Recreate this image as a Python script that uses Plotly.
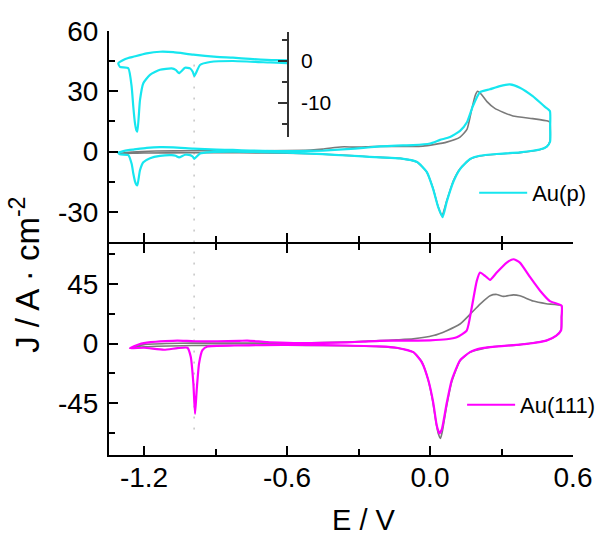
import plotly.graph_objects as go

# Cyclic voltammograms: anodic (forward) and cathodic (reverse) branches
# Au(p) electrode
E_p_fwd = [-1.308, -1.287, -1.266, -1.245, -1.189, -1.133, -1.077, -0.993, -0.895, -0.827,
           -0.755, -0.65, -0.55, -0.45, -0.35, -0.28, -0.209, -0.14, -0.071, 0.0, 0.042,
           0.084, 0.126, 0.155, 0.18, 0.209, 0.251, 0.293, 0.335, 0.377, 0.431, 0.48, 0.503]
J_p_fwd = [-0.55, 0.24, 0.7, 1.0, 1.8, 2.2, 2.1, 1.5, 1.0, 0.8,
           0.5, 0.2, 0.2, 0.5, 1.2, 1.8, 2.6, 3.0, 3.2, 4.0, 5.8,
           7.2, 10.3, 14.6, 22.7, 29.5, 31.0, 32.6, 33.4, 31.8, 27.6, 22.5, 20.2]
E_p_rev = [0.504, 0.504, 0.49, 0.46, 0.377, 0.28, 0.209, 0.168, 0.126, 0.098, 0.07, 0.053,
           0.034, 0.013, -0.013, -0.054, -0.125, -0.209, -0.3, -0.4, -0.5, -0.6, -0.7,
           -0.827, -0.923, -0.965, -0.989, -0.995, -1.007, -1.028, -1.053, -1.067, -1.084,
           -1.133, -1.175, -1.203, -1.217, -1.228, -1.232, -1.238, -1.245, -1.252, -1.266,
           -1.301, -1.308]
J_p_rev = [12.0, 5.0, 2.5, 1.0, -0.4, -1.2, -2.1, -3.7, -8.7, -15.0, -25.0, -32.6,
           -27.5, -18.6, -10.2, -5.2, -3.4, -2.9, -2.3, -1.6, -1.0, -0.5, -0.3,
           0.0, -0.24, -0.95, -3.6, -2.6, -1.75, -1.6, -2.9, -2.1, -1.75,
           -2.1, -3.3, -5.3, -9.3, -16.8, -16.5, -14.8, -10.9, -6.1, -1.75,
           -1.4, -0.55]

# Reference voltammogram recorded with Au(p)
E_p0_fwd = [-1.308, -1.25, -1.15, -1.0, -0.8, -0.6, -0.5, -0.45, -0.4, -0.36, -0.32, -0.26,
            -0.209, -0.1, -0.03, 0.07, 0.126, 0.155, 0.175, 0.19, 0.2, 0.215, 0.238, 0.272,
            0.348, 0.431, 0.494, 0.503]
J_p0_fwd = [-1.0, -0.2, 0.3, 0.4, 0.4, 0.5, 0.7, 1.2, 2.0, 2.4, 2.2, 2.4,
            2.6, 2.6, 2.7, 4.7, 7.2, 11.0, 21.0, 28.0, 30.0, 28.5, 25.0, 21.5,
            17.7, 16.4, 15.2, 14.5]
E_p0_rev = [0.503, 0.49, 0.46, 0.377, 0.28, 0.209, 0.168, 0.126, 0.098, 0.07, 0.05, 0.033,
            0.012, -0.015, -0.055, -0.125, -0.209, -0.3, -0.4, -0.5, -0.6, -0.8, -1.0,
            -1.2, -1.308]
J_p0_rev = [5.0, 2.5, 0.9, -0.5, -1.3, -2.2, -3.8, -8.5, -14.5, -24.5, -32.0, -27.0,
            -18.0, -10.0, -5.2, -3.4, -2.9, -2.2, -1.6, -1.1, -0.8, -0.6, -0.6,
            -0.7, -1.0]

# Au(111) electrode
E_111_fwd = [-1.259, -1.22, -1.172, -1.11, -1.06, -0.99, -0.893, -0.8, -0.767, -0.72, -0.683,
             -0.6, -0.543, -0.45, -0.35, -0.28, -0.21, -0.1, 0.0, 0.07, 0.112, 0.154, 0.175,
             0.196, 0.21, 0.231, 0.252, 0.28, 0.322, 0.35, 0.377, 0.42, 0.461, 0.503, 0.552]
J_111_fwd = [-3.5, -0.5, 1.0, 1.8, 2.2, 1.7, 1.7, 2.0, 2.2, 1.6, 1.0,
             0.5, 0.3, 0.5, 0.9, 1.4, 2.0, 2.2, 2.4, 3.2, 4.7, 9.7, 27.0,
             47.0, 53.5, 51.0, 48.0, 53.5, 61.0, 63.5, 61.0, 50.0, 40.0, 32.0, 28.5]
E_111_rev = [0.552, 0.55, 0.53, 0.488, 0.42, 0.377, 0.3, 0.252, 0.2, 0.168, 0.126, 0.091,
             0.07, 0.049, 0.039, 0.028, 0.014, -0.007, -0.035, -0.07, -0.14, -0.21, -0.35,
             -0.543, -0.7, -0.822, -0.934, -0.955, -0.969, -0.979, -0.986, -0.993, -1.004,
             -1.018, -1.06, -1.116, -1.2, -1.259]
J_111_rev = [20.0, 10.0, 6.0, 2.2, 0.0, -0.8, -2.0, -2.7, -4.2, -6.5, -12.7, -27.7,
             -45.0, -65.0, -67.7, -61.5, -45.0, -27.7, -14.0, -6.5, -3.2, -2.2, -1.5,
             -1.0, -1.2, -1.5, -2.2, -5.0, -15.0, -35.0, -53.0, -30.0, -10.0,
             -3.2, -3.5, -4.7, -3.2, -3.5]

# Reference voltammogram recorded with Au(111)
E_1110_fwd = [-1.259, -1.2, -1.1, -1.0, -0.8, -0.6, -0.5, -0.4, -0.3, -0.21, -0.14, -0.07,
              0.014, 0.07, 0.126, 0.168, 0.21, 0.252, 0.28, 0.308, 0.35, 0.377, 0.433,
              0.488, 0.552]
J_1110_fwd = [-3.5, -0.8, 0.0, 0.3, 0.3, 0.3, 0.5, 0.9, 1.5, 2.2, 2.8, 3.5,
              6.0, 9.7, 14.7, 22.0, 29.7, 36.0, 37.0, 35.5, 36.7, 36.0, 32.0,
              30.0, 28.5]
E_1110_rev = [0.552, 0.55, 0.53, 0.488, 0.377, 0.252, 0.168, 0.126, 0.091, 0.07, 0.052,
              0.044, 0.035, 0.024, 0.01, -0.01, -0.035, -0.07, -0.14, -0.21, -0.3, -0.45,
              -0.6, -0.8, -1.0, -1.2, -1.259]
J_1110_rev = [20.0, 10.0, 6.0, 2.2, -0.8, -2.7, -6.5, -13.0, -29.0, -47.0, -66.0,
              -71.5, -68.0, -58.0, -42.0, -26.0, -13.5, -6.5, -3.4, -2.4, -1.9, -1.5,
              -1.3, -1.3, -1.5, -2.5, -3.5]

# Potential marked by the dotted guide line
E_MARK = -0.99

# Tick positions and labels
E_TICKS = [-1.2, -0.6, 0.0, 0.6]
E_TICKTEXT = ["-1.2", "-0.6", "0.0", "0.6"]
E_MINOR = [-0.9, -0.3, 0.3]
J_TOP_TICKS = [-30, 0, 30, 60]
J_TOP_TICKTEXT = ["-30", "0", "30", "60"]
J_TOP_MINOR = [-45, -15, 15, 45]
J_BOT_TICKS = [-45, 0, 45]
J_BOT_TICKTEXT = ["-45", "0", "45"]
J_BOT_MINOR = [-67.5, -22.5, 22.5, 67.5]
INSET_TICKS = [-10, 0]
INSET_TICKTEXT = ["-10", "0"]
INSET_MINOR = [-15, -5, 5]

# Axis ranges
E_RANGE = [-1.347, 0.6]
J_TOP_RANGE = [-45, 60]
J_BOT_RANGE = [-84, 75]
INSET_E_RANGE = [-1.347, -0.6]
INSET_J_RANGE = [-18.1, 6.9]

CYAN = "#16E6EF"
MAGENTA = "#FF00FF"
GREY = "#7A7A7A"
FONT = "Liberation Sans, Arial, sans-serif"

PLOT_H = 424  # plotting height in px; the panels are offset so their shared edge lines coincide
SEAM = 1.0 / PLOT_H

fig = go.Figure()


def loop(e_fwd, j_fwd, e_rev, j_rev):
    return list(e_fwd) + list(e_rev), list(j_fwd) + list(j_rev)


line_opts = dict(shape="spline", smoothing=0.5)

# Upper panel (Au(p))
x, y = loop(E_p0_fwd, J_p0_fwd, E_p0_rev, J_p0_rev)
fig.add_trace(go.Scatter(x=x, y=y, mode="lines", xaxis="x2", yaxis="y2",
                         line=dict(color=GREY, width=1.6, **line_opts), showlegend=False))
x, y = loop(E_p_fwd, J_p_fwd, E_p_rev, J_p_rev)
fig.add_trace(go.Scatter(x=x, y=y, mode="lines", xaxis="x2", yaxis="y2", name="Au(p)",
                         line=dict(color=CYAN, width=2.2, **line_opts), legend="legend"))
# Inset: magnified Au(p) region
fig.add_trace(go.Scatter(x=x, y=y, mode="lines", xaxis="x3", yaxis="y3",
                         line=dict(color=CYAN, width=2.2, **line_opts), showlegend=False))

# Lower panel (Au(111))
x, y = loop(E_1110_fwd, J_1110_fwd, E_1110_rev, J_1110_rev)
fig.add_trace(go.Scatter(x=x, y=y, mode="lines", xaxis="x", yaxis="y",
                         line=dict(color=GREY, width=1.6, **line_opts), showlegend=False))
x, y = loop(E_111_fwd, J_111_fwd, E_111_rev, J_111_rev)
fig.add_trace(go.Scatter(x=x, y=y, mode="lines", xaxis="x", yaxis="y", name="Au(111)",
                         line=dict(color=MAGENTA, width=2.2, **line_opts), legend="legend2"))

axis_common = dict(showgrid=False, zeroline=False, showline=True, linecolor="black",
                   linewidth=2, ticks="inside", tickcolor="black", tickwidth=2, ticklen=9,
                   tickmode="array",
                   tickfont=dict(family=FONT, size=28, color="black"))


def minor(vals):
    return dict(tickmode="array", tickvals=vals, ticks="inside", ticklen=6,
                tickcolor="black", tickwidth=2)


fig.update_layout(
    width=601, height=536,
    margin=dict(l=109, r=28, t=31, b=81, autoexpand=False),
    paper_bgcolor="white", plot_bgcolor="rgba(0,0,0,0)",
    font=dict(family=FONT, color="black"),
    xaxis=dict(domain=[0, 1], anchor="y", range=E_RANGE, tickvals=E_TICKS,
               ticktext=E_TICKTEXT, mirror="ticks", ticklabelstandoff=-4,
               minor=minor(E_MINOR), **axis_common),
    xaxis2=dict(domain=[0, 1], anchor="y2", range=E_RANGE, matches="x",
                tickvals=E_TICKS, ticktext=E_TICKTEXT, showticklabels=False,
                minor=minor(E_MINOR), **axis_common),
    yaxis=dict(domain=[0, 0.5 - SEAM], anchor="x", range=J_BOT_RANGE,
               tickvals=J_BOT_TICKS, ticktext=J_BOT_TICKTEXT, ticklabelstandoff=3,
               minor=minor(J_BOT_MINOR), **axis_common),
    yaxis2=dict(domain=[0.5 + SEAM, 1], anchor="x2", range=J_TOP_RANGE,
                tickvals=J_TOP_TICKS, ticktext=J_TOP_TICKTEXT, ticklabelstandoff=3,
                minor=minor(J_TOP_MINOR), **axis_common),
    xaxis3=dict(domain=[0, 0.3836], anchor="y3", range=INSET_E_RANGE, visible=False),
    yaxis3=dict(domain=[0.75, 0.9976], anchor="x3", side="right", range=INSET_J_RANGE,
                tickmode="array", tickvals=INSET_TICKS, ticktext=INSET_TICKTEXT,
                showgrid=False, zeroline=False, showline=True,
                linecolor="#333333", linewidth=1.5, ticks="inside", ticklen=9,
                tickcolor="#333333", tickwidth=1.5, ticklabelstandoff=8,
                tickfont=dict(family=FONT, size=21, color="black"),
                minor=dict(tickmode="array", tickvals=INSET_MINOR, ticks="inside",
                           ticklen=5, tickcolor="#333333", tickwidth=1.5)),
    legend=dict(x=0.787, y=0.618, xanchor="left", yanchor="middle",
                bgcolor="rgba(0,0,0,0)", itemwidth=48,
                font=dict(family=FONT, size=22, color="black")),
    legend2=dict(x=0.761, y=0.118, xanchor="left", yanchor="middle",
                 bgcolor="rgba(0,0,0,0)", itemwidth=48,
                 font=dict(family=FONT, size=22, color="black")),
    shapes=[dict(type="line", xref="x", yref="paper", x0=E_MARK, x1=E_MARK,
                 y0=0.06, y1=0.94, layer="below",
                 line=dict(color="#A8A8A8", width=1, dash="2px,9px"))],
    annotations=[
        dict(text="J / A · cm<sup>-2</sup>", xref="paper", yref="paper", x=-0.181, y=0.425,
             xanchor="center", yanchor="middle", textangle=-90, showarrow=False,
             font=dict(family=FONT, size=33, color="black")),
        dict(text="E / V", xref="paper", yref="paper", x=0.55, y=-0.153,
             xanchor="center", yanchor="middle", showarrow=False,
             font=dict(family=FONT, size=29, color="black")),
    ],
)

fig.write_html("out.html")
